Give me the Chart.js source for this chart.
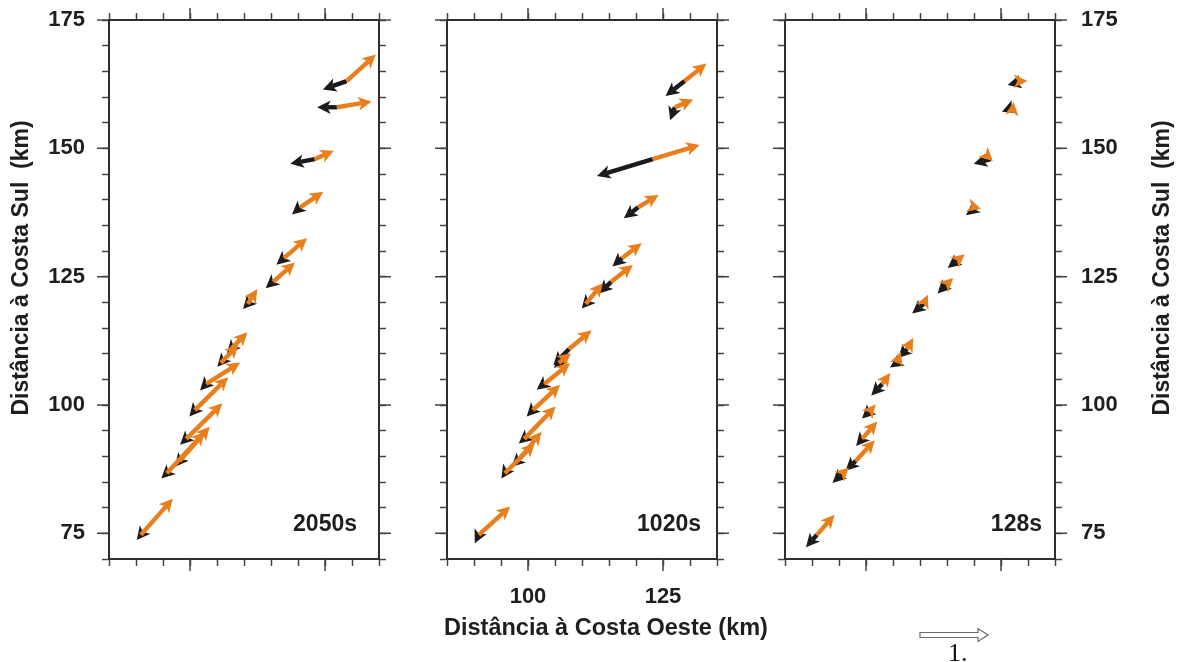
<!DOCTYPE html>
<html>
<head>
<meta charset="utf-8">
<script src="https://cdn.jsdelivr.net/npm/chart.js@4.4.1/dist/chart.umd.min.js"></script>
<style>
  html, body { margin: 0; padding: 0; background: #fff; }
  #wrap { position: relative; width: 1184px; height: 662px; overflow: hidden; }
  #wrap canvas { position: absolute; left: 0; top: 0; }
</style>
</head>
<body>
<div id="wrap">
  <canvas id="panel0" width="1184" height="662"></canvas>
  <canvas id="panel1" width="1184" height="662"></canvas>
  <canvas id="panel2" width="1184" height="662"></canvas>
</div>
<script>
// Station positions (km from west coast / south coast)
const stationX = [129.0, 127.2, 123.1, 120.4, 117.4, 115.4, 110.7, 107.6, 105.7, 103.0, 100.9, 99.3, 98.1, 95.7, 90.9];
const stationY = [163.1, 158.0, 147.9, 138.5, 128.6, 124.0, 119.7, 110.9, 108.2, 104.1, 99.0, 93.4, 89.1, 86.7, 74.7];

const periods = ['2050s', '1020s', '128s'];

// Real (orange) and imaginary (black) arrow components, east / north
const realU_2050 = [0.43, 0.51, 0.28, 0.34, 0.34, 0.32, 0.14, 0.24, 0.26, 0.50, 0.49, 0.53, 0.44, 0.56, 0.47];
const realV_2050 = [0.41, 0.09, 0.13, 0.24, 0.31, 0.30, 0.23, 0.26, 0.28, 0.33, 0.51, 0.55, 0.53, 0.64, 0.56];
const imagU_2050 = [-0.35, -0.29, -0.36, -0.12, -0.11, -0.11, -0.07, -0.06, -0.05, -0.09, -0.08, -0.09, -0.07, -0.08, -0.06];
const imagV_2050 = [-0.13, 0.00, -0.07, -0.11, -0.10, -0.10, -0.08, -0.07, -0.06, -0.10, -0.10, -0.09, -0.09, -0.08, -0.08];

const realU_1020 = [0.32, 0.27, 0.69, 0.30, 0.29, 0.32, 0.25, 0.33, 0.18, 0.38, 0.40, 0.46, 0.35, 0.44, 0.46];
const realV_1020 = [0.27, 0.12, 0.22, 0.19, 0.23, 0.26, 0.32, 0.29, 0.15, 0.32, 0.39, 0.50, 0.45, 0.46, 0.44];
const imagU_1020 = [-0.28, -0.07, -0.82, -0.21, -0.14, -0.18, -0.06, -0.23, -0.07, -0.11, -0.09, -0.08, -0.09, -0.05, -0.06];
const imagV_1020 = [-0.23, -0.20, -0.26, -0.17, -0.13, -0.18, -0.07, -0.25, -0.08, -0.09, -0.10, -0.07, -0.09, -0.08, -0.13];

const realU_128 = [0.07, 0.01, 0.03, 0.07, 0.07, 0.06, 0.06, 0.09, 0.06, 0.12, 0.07, 0.22, 0.28, 0.09, 0.26];
const realV_128 = [0.00, 0.08, -0.03, -0.02, 0.06, 0.06, 0.14, 0.17, 0.17, 0.17, 0.09, 0.27, 0.32, 0.09, 0.31];
const imagU_128 = [-0.22, -0.16, -0.25, -0.15, -0.18, -0.17, -0.17, -0.13, -0.10, -0.16, -0.13, -0.09, -0.15, -0.15, -0.16];
const imagV_128 = [-0.06, -0.07, -0.07, -0.12, -0.15, -0.18, -0.15, -0.14, -0.07, -0.18, -0.13, -0.11, -0.15, -0.15, -0.19];

// Axis ranges and labelled ticks
const X_MIN = 85, X_MAX = 135, Y_MIN = 70, Y_MAX = 175, TICK_STEP = 5;
const xTickLabels = [100, 125];
const yTickLabels = [75, 100, 125, 150, 175];

const X_TITLE = 'Distância à Costa Oeste (km)';
const Y_TITLE = 'Distância à Costa Sul  (km)';
const SCALE_LABEL = '1.';

// km of map per unit arrow length
const ARROW_KM = 12.6;

// Styling / layout
const ORANGE = '#E97F1C';
const INK = '#1b1b1b';
const TEXT_COLOR = '#1e1e1e';
const FRAME_COLOR = '#2e2e2e';
const TICK_COLOR = '#444';
const FONT = "'Liberation Sans', Arial, Helvetica, sans-serif";
const W = 1184, H = 662;
const PANEL_LEFT = [109, 447, 785];
const PANEL_WIDTH = 270;
const PLOT_TOP = 20, PLOT_BOTTOM = 559;
const MINOR_TICK = 7, MAJOR_TICK = 12;

const HEAD_LEN = 13.5, HEAD_HALF = 6.8, HEAD_NOTCH = 3.5, SHAFT = 4.4;

function drawArrow(ctx, x0, y0, x1, y1, color) {
    const dx = x1 - x0, dy = y1 - y0;
    const len = Math.hypot(dx, dy);
    if (len < 0.01) return;
    const ux = dx / len, uy = dy / len;
    const back = HEAD_LEN - HEAD_NOTCH;
    const nx = x1 - ux * back, ny = y1 - uy * back;
    ctx.save();
    ctx.fillStyle = color;
    ctx.strokeStyle = color;
    if (len > back) {
        ctx.lineWidth = SHAFT;
        ctx.lineCap = 'butt';
        ctx.beginPath();
        ctx.moveTo(x0, y0);
        ctx.lineTo(nx, ny);
        ctx.stroke();
    }
    const bx = x1 - ux * HEAD_LEN, by = y1 - uy * HEAD_LEN;
    ctx.beginPath();
    ctx.moveTo(x1, y1);
    ctx.lineTo(bx - uy * HEAD_HALF, by + ux * HEAD_HALF);
    ctx.lineTo(nx, ny);
    ctx.lineTo(bx + uy * HEAD_HALF, by - ux * HEAD_HALF);
    ctx.closePath();
    ctx.fill();
    ctx.restore();
}

// Dataset type that draws each (origin, tip) pair of points as an arrow
class ArrowController extends Chart.ScatterController {
    draw() {
        const pts = this.getMeta().data;
        const ds = this.getDataset();
        const ctx = this.chart.ctx;
        for (let i = 0; i + 1 < pts.length; i += 2) {
            drawArrow(ctx, pts[i].x, pts[i].y, pts[i + 1].x, pts[i + 1].y, ds.arrowColor);
        }
    }
}
ArrowController.id = 'arrow';
Chart.register(ArrowController);

function arrowPoints(us, vs) {
    const pts = [];
    for (let i = 0; i < stationX.length; i++) {
        pts.push({ x: stationX[i], y: stationY[i] });
        pts.push({ x: stationX[i] + us[i] * ARROW_KM, y: stationY[i] + vs[i] * ARROW_KM });
    }
    return pts;
}

function drawScaleArrow(ctx, x0, y, len) {
    const hl = 10, hw = 6.5, sw = 2.5;
    ctx.save();
    ctx.beginPath();
    ctx.moveTo(x0, y - sw);
    ctx.lineTo(x0 + len - hl, y - sw);
    ctx.lineTo(x0 + len - hl, y - hw);
    ctx.lineTo(x0 + len, y);
    ctx.lineTo(x0 + len - hl, y + hw);
    ctx.lineTo(x0 + len - hl, y + sw);
    ctx.lineTo(x0, y + sw);
    ctx.closePath();
    ctx.fillStyle = '#fff';
    ctx.fill();
    ctx.strokeStyle = '#6a6a6a';
    ctx.lineWidth = 1.2;
    ctx.stroke();
    ctx.restore();
}

function rotatedText(ctx, text, x, y) {
    ctx.save();
    ctx.translate(x, y);
    ctx.rotate(-Math.PI / 2);
    ctx.textAlign = 'center';
    ctx.textBaseline = 'middle';
    ctx.fillText(text, 0, 0);
    ctx.restore();
}

// Longer major ticks, titles, period label and the unit arrow
const decor = {
    id: 'decor',
    afterDraw(chart, args, opts) {
        const { ctx, chartArea: a, scales } = chart;
        ctx.save();
        ctx.strokeStyle = TICK_COLOR;
        ctx.lineWidth = 1.5;
        ctx.beginPath();
        for (const v of xTickLabels) {
            const px = scales.x.getPixelForValue(v);
            ctx.moveTo(px, a.bottom); ctx.lineTo(px, a.bottom + MAJOR_TICK);
            ctx.moveTo(px, a.top); ctx.lineTo(px, a.top - MAJOR_TICK);
        }
        for (const v of yTickLabels) {
            const py = scales.y.getPixelForValue(v);
            ctx.moveTo(a.left, py); ctx.lineTo(a.left - MAJOR_TICK, py);
            ctx.moveTo(a.right, py); ctx.lineTo(a.right + MAJOR_TICK, py);
        }
        ctx.stroke();

        ctx.fillStyle = TEXT_COLOR;
        ctx.font = `bold 23px ${FONT}`;
        ctx.textAlign = 'right';
        ctx.textBaseline = 'alphabetic';
        ctx.fillText(opts.label, a.right - opts.labelRight, a.bottom - 28);

        if (opts.leftTitle) rotatedText(ctx, Y_TITLE, opts.leftTitle[0], opts.leftTitle[1]);
        if (opts.rightTitle) rotatedText(ctx, Y_TITLE, opts.rightTitle[0], opts.rightTitle[1]);
        if (opts.xTitle) {
            ctx.font = `bold 23.5px ${FONT}`;
            ctx.textAlign = 'center';
            ctx.textBaseline = 'middle';
            ctx.fillText(X_TITLE, opts.xTitle[0], opts.xTitle[1]);
        }
        if (opts.scaleArrow) {
            const len = scales.x.getPixelForValue(X_MIN + ARROW_KM) - scales.x.getPixelForValue(X_MIN);
            const [sx, sy] = opts.scaleArrow;
            drawScaleArrow(ctx, sx, sy, len);
            ctx.fillStyle = '#111';
            ctx.font = "26px 'Liberation Serif', 'Times New Roman', serif";
            ctx.textAlign = 'left';
            ctx.textBaseline = 'alphabetic';
            ctx.fillText(SCALE_LABEL, sx + 28, sy + 26);
        }
        ctx.restore();
    }
};

function axis(position, min, max, labels, padding, size) {
    return {
        type: 'linear',
        position,
        min,
        max,
        grid: {
            drawOnChartArea: false,
            drawTicks: true,
            tickLength: MINOR_TICK,
            tickWidth: 1.5,
            tickColor: TICK_COLOR,
            color: TICK_COLOR
        },
        border: { display: true, color: FRAME_COLOR, width: 2 },
        ticks: {
            stepSize: TICK_STEP,
            autoSkip: false,
            maxRotation: 0,
            padding,
            color: TEXT_COLOR,
            font: { family: FONT, size: 22, weight: 'bold' },
            callback: (v) => (labels.includes(v) ? String(v) : '')
        },
        afterFit: (s) => {
            if (s.isHorizontal()) s.height = size; else s.width = size;
            s.paddingTop = 0; s.paddingBottom = 0; s.paddingLeft = 0; s.paddingRight = 0;
        }
    };
}

function makePanel(i, real, imag, extra) {
    const left = PANEL_LEFT[i];
    const right = left + PANEL_WIDTH;
    return new Chart(document.getElementById('panel' + i), {
        type: 'scatter',
        data: {
            datasets: [
                { type: 'arrow', label: 'imag', data: arrowPoints(imag[0], imag[1]), arrowColor: INK, order: 1, clip: false },
                { type: 'arrow', label: 'real', data: arrowPoints(real[0], real[1]), arrowColor: ORANGE, order: 0, clip: false }
            ]
        },
        options: {
            responsive: false,
            animation: false,
            events: [],
            layout: { padding: 0, autoPadding: false },
            plugins: {
                legend: { display: false },
                tooltip: { enabled: false },
                decor: Object.assign({ label: periods[i] }, extra)
            },
            scales: {
                x: axis('bottom', X_MIN, X_MAX, i === 1 ? xTickLabels : [], 18, H - PLOT_BOTTOM),
                xTop: axis('top', X_MIN, X_MAX, [], 0, PLOT_TOP),
                y: axis('left', Y_MIN, Y_MAX, i === 0 ? yTickLabels : [], 17, left),
                yRight: axis('right', Y_MIN, Y_MAX, i === 2 ? yTickLabels : [], 19, W - right)
            }
        },
        plugins: [decor]
    });
}

makePanel(0, [realU_2050, realV_2050], [imagU_2050, imagV_2050], { labelRight: 22, leftTitle: [22, 268] });
makePanel(1, [realU_1020, realV_1020], [imagU_1020, imagV_1020], { labelRight: 16, xTitle: [606, 629] });
makePanel(2, [realU_128, realV_128], [imagU_128, imagV_128], { labelRight: 13, rightTitle: [1163, 268], scaleArrow: [920, 635] });
</script>
</body>
</html>
